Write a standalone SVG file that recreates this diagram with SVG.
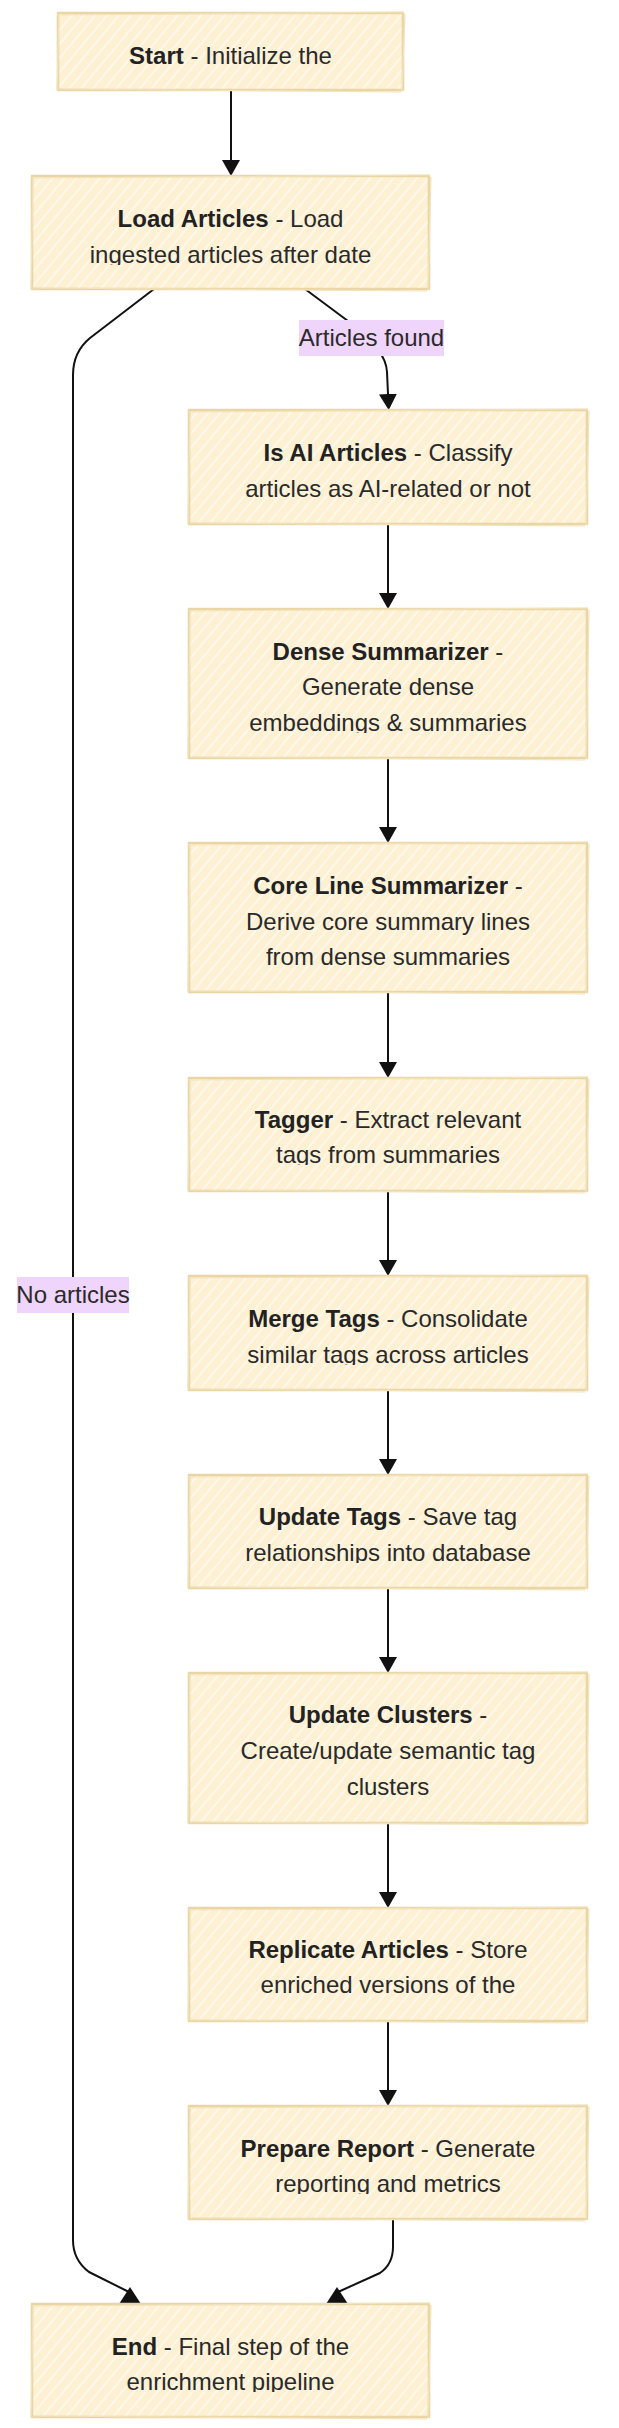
<svg xmlns="http://www.w3.org/2000/svg" width="619" height="2428" viewBox="0 0 619 2428">
<style>
.box{fill:#fdf0d3;}
.hat{fill:url(#hatch);}
.bd{fill:none;stroke:#ead6a5;stroke-width:2.6;stroke-linejoin:round;}
.bd2{fill:none;stroke:#f2e3bd;stroke-width:1.2;}
.t{font-family:"Liberation Sans",Arial,sans-serif;font-size:24px;fill:#2a2a2a;text-anchor:middle;}
.b{font-weight:bold;fill:#222;}
.e{fill:none;stroke:#111;stroke-width:2;stroke-linecap:round;stroke-linejoin:round;}
.lbl{fill:#efd4fb;}
.ah{fill:#111;}
</style>
<defs>
<pattern id="hatch" patternUnits="userSpaceOnUse" width="9" height="9" patternTransform="rotate(40)">
<line x1="2" y1="0" x2="2" y2="9" stroke="#ffffff" stroke-width="1.3" stroke-opacity="0.85"/>
</pattern>
<marker id="arr" viewBox="0 0 16 18" refX="0" refY="9" markerWidth="16" markerHeight="18" markerUnits="userSpaceOnUse" orient="auto">
<path d="M0,0 L16,9 L0,18 z" fill="#111"/>
</marker>
<clipPath id="cLoad"><rect x="32" y="176" width="397" height="89"/></clipPath>
<clipPath id="cDense"><rect x="189" y="609" width="398" height="124"/></clipPath>
<clipPath id="cTag"><rect x="189" y="1078" width="398" height="87"/></clipPath>
<clipPath id="cMerge"><rect x="189" y="1276" width="398" height="89"/></clipPath>
<clipPath id="cUpd"><rect x="189" y="1475" width="398" height="88"/></clipPath>
<clipPath id="cPrep"><rect x="189" y="2106" width="398" height="88"/></clipPath>
<clipPath id="cEnd"><rect x="32" y="2304" width="397" height="88"/></clipPath>
</defs>
<rect x="0" y="0" width="619" height="2428" fill="#ffffff"/>

<g id="connectors">
<path class="e" d="M231,90 L231,160" marker-end="url(#arr)"/>
<path class="e" d="M305,289 L352,324 Q386,350 387,372 L388,394" marker-end="url(#arr)"/>
<path class="e" d="M154,289 L90,338 Q73,352 73,375 L73,2240 Q73,2260 89,2272 L129,2292"/>
<polygon class="ah" points="119,2304 141,2304 130,2287"/>
<path class="e" d="M393,2219 L393,2247 Q393,2264 380,2273 L338,2292"/>
<polygon class="ah" points="326,2304 348,2304 337,2287"/>
<path class="e" d="M388,524 L388,593" marker-end="url(#arr)"/>
<path class="e" d="M388,758 L388,827" marker-end="url(#arr)"/>
<path class="e" d="M388,992 L388,1062" marker-end="url(#arr)"/>
<path class="e" d="M388,1191 L388,1260" marker-end="url(#arr)"/>
<path class="e" d="M388,1390 L388,1459" marker-end="url(#arr)"/>
<path class="e" d="M388,1588 L388,1657" marker-end="url(#arr)"/>
<path class="e" d="M388,1823 L388,1892" marker-end="url(#arr)"/>
<path class="e" d="M388,2021 L388,2090" marker-end="url(#arr)"/>
<g id="label-found">
<rect class="lbl" x="299" y="320" width="145" height="36"/>
<text class="t" x="371.5" y="346">Articles found</text>
</g>
<g id="label-none">
<rect class="lbl" x="17" y="1277" width="112" height="36"/>
<text class="t" x="73" y="1303">No articles</text>
</g>
</g>

<g id="start">
<rect class="box" x="58" y="13" width="345" height="77"/>
<rect class="hat" x="58" y="13" width="345" height="77"/>
<rect class="bd" x="58" y="13" width="345" height="77"/>
<path class="bd2" d="M57,15 L404,12 M405,14 L402,91 M401,92 L59,89 M57,90 L59,14"/>
<text class="t" x="230.5" y="64"><tspan class="b">Start</tspan> - Initialize the</text>
</g>

<g id="load">
<rect class="box" x="32" y="176" width="397" height="113"/>
<rect class="hat" x="32" y="176" width="397" height="113"/>
<rect class="bd" x="32" y="176" width="397" height="113"/>
<path class="bd2" d="M31,178 L430,175 M431,177 L428,290 M427,291 L33,288 M31,289 L33,177"/>
<text class="t" x="230.5" clip-path="url(#cLoad)"><tspan x="230.5" y="227"><tspan class="b">Load Articles</tspan> - Load</tspan><tspan x="230.5" y="263">ingested articles after date</tspan></text>
</g>

<g id="isai">
<rect class="box" x="189" y="410" width="398" height="114"/>
<rect class="hat" x="189" y="410" width="398" height="114"/>
<rect class="bd" x="189" y="410" width="398" height="114"/>
<path class="bd2" d="M188,412 L588,409 M589,411 L586,525 M585,526 L190,523 M188,524 L190,411"/>
<text class="t"><tspan x="388" y="461"><tspan class="b">Is AI Articles</tspan> - Classify</tspan><tspan x="388" y="497">articles as AI-related or not</tspan></text>
</g>

<g id="dense">
<rect class="box" x="189" y="609" width="398" height="149"/>
<rect class="hat" x="189" y="609" width="398" height="149"/>
<rect class="bd" x="189" y="609" width="398" height="149"/>
<path class="bd2" d="M188,611 L588,608 M589,610 L586,759 M585,760 L190,757 M188,758 L190,610"/>
<text class="t" clip-path="url(#cDense)"><tspan x="388" y="660"><tspan class="b">Dense Summarizer</tspan> -</tspan><tspan x="388" y="695">Generate dense</tspan><tspan x="388" y="731">embeddings &amp; summaries</tspan></text>
</g>

<g id="core">
<rect class="box" x="189" y="843" width="398" height="149"/>
<rect class="hat" x="189" y="843" width="398" height="149"/>
<rect class="bd" x="189" y="843" width="398" height="149"/>
<path class="bd2" d="M188,845 L588,842 M589,844 L586,993 M585,994 L190,991 M188,992 L190,844"/>
<text class="t"><tspan x="388" y="894"><tspan class="b">Core Line Summarizer</tspan> -</tspan><tspan x="388" y="930">Derive core summary lines</tspan><tspan x="388" y="965">from dense summaries</tspan></text>
</g>

<g id="tagger">
<rect class="box" x="189" y="1078" width="398" height="113"/>
<rect class="hat" x="189" y="1078" width="398" height="113"/>
<rect class="bd" x="189" y="1078" width="398" height="113"/>
<path class="bd2" d="M188,1080 L588,1077 M589,1079 L586,1192 M585,1193 L190,1190 M188,1191 L190,1079"/>
<text class="t" clip-path="url(#cTag)"><tspan x="388" y="1128"><tspan class="b">Tagger</tspan> - Extract relevant</tspan><tspan x="388" y="1163">tags from summaries</tspan></text>
</g>

<g id="merge">
<rect class="box" x="189" y="1276" width="398" height="114"/>
<rect class="hat" x="189" y="1276" width="398" height="114"/>
<rect class="bd" x="189" y="1276" width="398" height="114"/>
<path class="bd2" d="M188,1278 L588,1275 M589,1277 L586,1391 M585,1392 L190,1389 M188,1390 L190,1277"/>
<text class="t" clip-path="url(#cMerge)"><tspan x="388" y="1327"><tspan class="b">Merge Tags</tspan> - Consolidate</tspan><tspan x="388" y="1363">similar tags across articles</tspan></text>
</g>

<g id="updtags">
<rect class="box" x="189" y="1475" width="398" height="113"/>
<rect class="hat" x="189" y="1475" width="398" height="113"/>
<rect class="bd" x="189" y="1475" width="398" height="113"/>
<path class="bd2" d="M188,1477 L588,1474 M589,1476 L586,1589 M585,1590 L190,1587 M188,1588 L190,1476"/>
<text class="t" clip-path="url(#cUpd)"><tspan x="388" y="1525"><tspan class="b">Update Tags</tspan> - Save tag</tspan><tspan x="388" y="1561">relationships into database</tspan></text>
</g>

<g id="clusters">
<rect class="box" x="189" y="1673" width="398" height="150"/>
<rect class="hat" x="189" y="1673" width="398" height="150"/>
<rect class="bd" x="189" y="1673" width="398" height="150"/>
<path class="bd2" d="M188,1675 L588,1672 M589,1674 L586,1824 M585,1825 L190,1822 M188,1823 L190,1674"/>
<text class="t"><tspan x="388" y="1723"><tspan class="b">Update Clusters</tspan> -</tspan><tspan x="388" y="1759">Create/update semantic tag</tspan><tspan x="388" y="1795">clusters</tspan></text>
</g>

<g id="replicate">
<rect class="box" x="189" y="1908" width="398" height="113"/>
<rect class="hat" x="189" y="1908" width="398" height="113"/>
<rect class="bd" x="189" y="1908" width="398" height="113"/>
<path class="bd2" d="M188,1910 L588,1907 M589,1909 L586,2022 M585,2023 L190,2020 M188,2021 L190,1909"/>
<text class="t"><tspan x="388" y="1958"><tspan class="b">Replicate Articles</tspan> - Store</tspan><tspan x="388" y="1993">enriched versions of the</tspan></text>
</g>

<g id="prepare">
<rect class="box" x="189" y="2106" width="398" height="113"/>
<rect class="hat" x="189" y="2106" width="398" height="113"/>
<rect class="bd" x="189" y="2106" width="398" height="113"/>
<path class="bd2" d="M188,2108 L588,2105 M589,2107 L586,2220 M585,2221 L190,2218 M188,2219 L190,2107"/>
<text class="t" clip-path="url(#cPrep)"><tspan x="388" y="2157"><tspan class="b">Prepare Report</tspan> - Generate</tspan><tspan x="388" y="2192">reporting and metrics</tspan></text>
</g>

<g id="end">
<rect class="box" x="32" y="2304" width="397" height="113"/>
<rect class="hat" x="32" y="2304" width="397" height="113"/>
<rect class="bd" x="32" y="2304" width="397" height="113"/>
<path class="bd2" d="M31,2306 L430,2303 M431,2305 L428,2418 M427,2419 L33,2416 M31,2417 L33,2305"/>
<text class="t" clip-path="url(#cEnd)"><tspan x="230.5" y="2355"><tspan class="b">End</tspan> - Final step of the</tspan><tspan x="230.5" y="2390">enrichment pipeline</tspan></text>
</g>
</svg>
